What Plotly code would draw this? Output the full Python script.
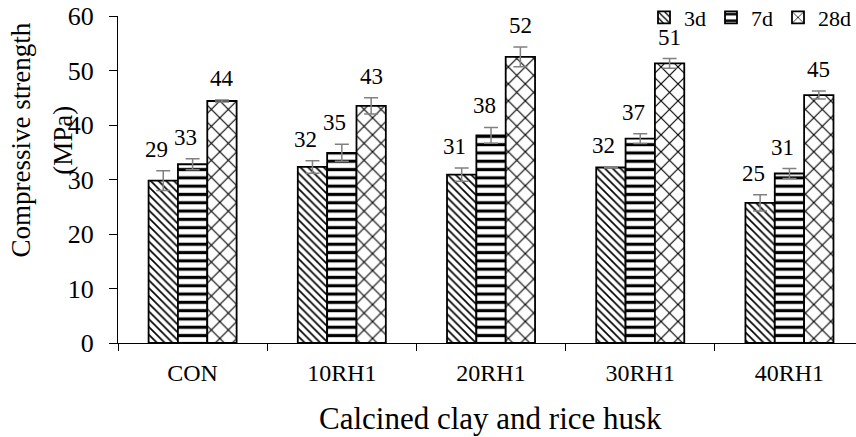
import plotly.graph_objects as go

categories = ["CON", "10RH1", "20RH1", "30RH1", "40RH1"]
series_names = ["3d", "7d", "28d"]
values_3d = [29.8, 32.3, 30.9, 32.2, 25.7]
values_7d = [32.8, 34.9, 38.1, 37.5, 31.1]
values_28d = [44.4, 43.5, 52.5, 51.3, 45.5]
err_3d = [1.8, 1.15, 1.2, 0.1, 1.5]
err_7d = [1.0, 1.55, 1.45, 0.9, 0.9]
err_28d = [0.2, 1.5, 1.8, 0.9, 0.75]
labels_3d = ["29", "32", "31", "32", "25"]
labels_7d = ["33", "35", "38", "37", "31"]
labels_28d = ["44", "43", "52", "51", "45"]
y_ticks = [0, 10, 20, 30, 40, 50, 60]

FONT = "Liberation Serif"
bargap = 0.41

series = [
    ("3d", values_3d, err_3d, labels_3d, dict(shape="\\", size=5.5, solidity=0.3), -7),
    ("7d", values_7d, err_7d, labels_7d, dict(shape="-", size=8.3, solidity=0.38), -7),
    ("28d", values_28d, err_28d, labels_28d, dict(shape="x", size=12, solidity=0.18), 0),
]

fig = go.Figure()
for name, vals, errs, labs, pat, xs in series:
    fig.add_trace(go.Bar(
        name=name, x=categories, y=vals,
        marker=dict(color="white", line=dict(color="black", width=1.8),
                    pattern=dict(fgcolor="black", bgcolor="white", fillmode="replace", **pat)),
        error_y=dict(type="data", array=errs, color="#808080", thickness=1.5, width=7),
    ))

bw = (1 - bargap) / 3
annotations = []
for j, (name, vals, errs, labs, pat, xs) in enumerate(series):
    for i, (v, e, t) in enumerate(zip(vals, errs, labs)):
        annotations.append(dict(
            x=i + (j - 1) * bw, y=v + e, xref="x", yref="y", text=t,
            showarrow=False, yanchor="bottom", yshift=7, xshift=xs,
            font=dict(family=FONT, size=23, color="black"),
        ))

annotations.append(dict(text="Compressive strength", textangle=-90, x=-0.131, y=0.62,
                        xref="paper", yref="paper", showarrow=False,
                        xanchor="center", yanchor="middle",
                        font=dict(family=FONT, size=27, color="black")))
annotations.append(dict(text="(MPa)", textangle=-90, x=-0.074, y=0.62,
                        xref="paper", yref="paper", showarrow=False,
                        xanchor="center", yanchor="middle",
                        font=dict(family=FONT, size=27, color="black")))
annotations.append(dict(text="Calcined clay and rice husk", x=0.505, y=-0.17,
                        xref="paper", yref="paper", showarrow=False,
                        xanchor="center", yanchor="top",
                        font=dict(family=FONT, size=31, color="black")))

fig.update_layout(
    width=856, height=437,
    margin=dict(l=118, r=0, t=16, b=94, autoexpand=False),
    paper_bgcolor="white", plot_bgcolor="white",
    barmode="group", bargap=bargap, bargroupgap=0,
    font=dict(family=FONT, color="black"),
    annotations=annotations,
    showlegend=True,
    legend=dict(orientation="h", x=1, xanchor="right", y=0.995, yanchor="middle",
                font=dict(family=FONT, size=22, color="black"),
                bgcolor="rgba(0,0,0,0)", itemwidth=30, tracegroupgap=0),
    xaxis=dict(type="category", range=[-0.5, 4.446], showline=True, linecolor="black",
               linewidth=1.3, ticks="outside", tickson="boundaries", ticklen=7,
               tickcolor="black", tickwidth=1.3, showgrid=False, zeroline=False,
               tickfont=dict(family=FONT, size=24, color="black"), ticklabelstandoff=8),
    yaxis=dict(range=[0, 60], tickvals=y_ticks, showline=True, linecolor="black",
               linewidth=1.3, ticks="outside", ticklen=8, tickcolor="black", tickwidth=1.3,
               showgrid=False, zeroline=False,
               tickfont=dict(family=FONT, size=26, color="black"), ticklabelstandoff=10),
)

fig.write_html("out.html")
